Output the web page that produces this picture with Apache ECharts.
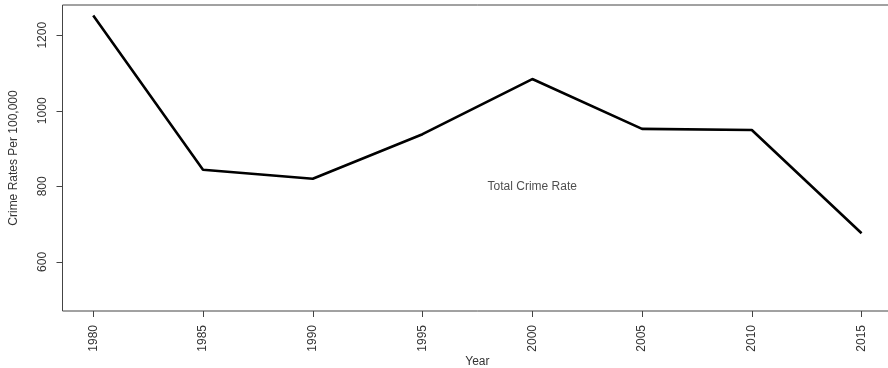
<!DOCTYPE html>
<html>
<head>
<meta charset="utf-8">
<script src="https://cdn.jsdelivr.net/npm/echarts@6/dist/echarts.min.js"></script>
<style>
html,body{margin:0;padding:0;background:#fff;overflow:hidden;width:888px;height:368px;}
#c{width:950px;height:368px;}
</style>
</head>
<body>
<div id="c"></div>
<script>
const years = [1980, 1985, 1990, 1995, 2000, 2005, 2010, 2015];
const rates = [1252, 844, 820, 938, 1084, 952, 949, 676];
const xTicks = [1980, 1985, 1990, 1995, 2000, 2005, 2010, 2015];
const yTicks = [600, 800, 1000, 1200];
const annotation = {x: 2000, y: 800, text: 'Total Crime Rate'};
const xTitle = 'Year';
const yTitle = 'Crime Rates Per 100,000';

const font = 'Liberation Sans, Arial, sans-serif';
const textColor = '#333';
const chart = echarts.init(document.getElementById('c'), null, {renderer: 'canvas'});
chart.setOption({
  animation: false,
  backgroundColor: '#fff',
  grid: {left: 62.5, top: 5, right: 57.7, bottom: 57, outerBoundsMode: 'none', containLabel: false, show: true, borderColor: '#444', borderWidth: 1, backgroundColor: 'transparent'},
  xAxis: {
    type: 'value', min: 1978.6, max: 2016.4,
    name: xTitle, nameLocation: 'middle', nameGap: 45, nameMoveOverlap: false,
    nameTextStyle: {fontFamily: font, fontSize: 12, color: textColor},
    axisLine: {show: false},
    axisTick: {show: true, length: 6, inside: false, customValues: xTicks, lineStyle: {color: '#444'}},
    axisLabel: {show: true, rotate: 90, margin: 14, customValues: xTicks, fontFamily: font, fontSize: 12, color: textColor, formatter: v => String(v)},
    splitLine: {show: false}
  },
  yAxis: {
    type: 'value', min: 470, max: 1280,
    name: yTitle, nameLocation: 'middle', nameGap: 43, nameRotate: 90, nameMoveOverlap: false,
    nameTextStyle: {fontFamily: font, fontSize: 12, color: textColor},
    axisLine: {show: false},
    axisTick: {show: true, length: 6, inside: false, customValues: yTicks, lineStyle: {color: '#444'}},
    axisLabel: {show: true, rotate: 90, margin: 14, customValues: yTicks, fontFamily: font, fontSize: 12, color: textColor, formatter: v => String(v)},
    splitLine: {show: false}
  },
  series: [
    {
      type: 'line',
      data: years.map((y, i) => [y, rates[i]]),
      symbol: 'none',
      lineStyle: {color: '#000', width: 2.6},
      clip: true
    },
    {
      type: 'scatter',
      data: [[annotation.x, annotation.y]],
      symbolSize: 0,
      label: {show: true, position: 'inside', formatter: annotation.text, fontFamily: font, fontSize: 12, color: '#222'}
    }
  ]
});
</script>
</body>
</html>
